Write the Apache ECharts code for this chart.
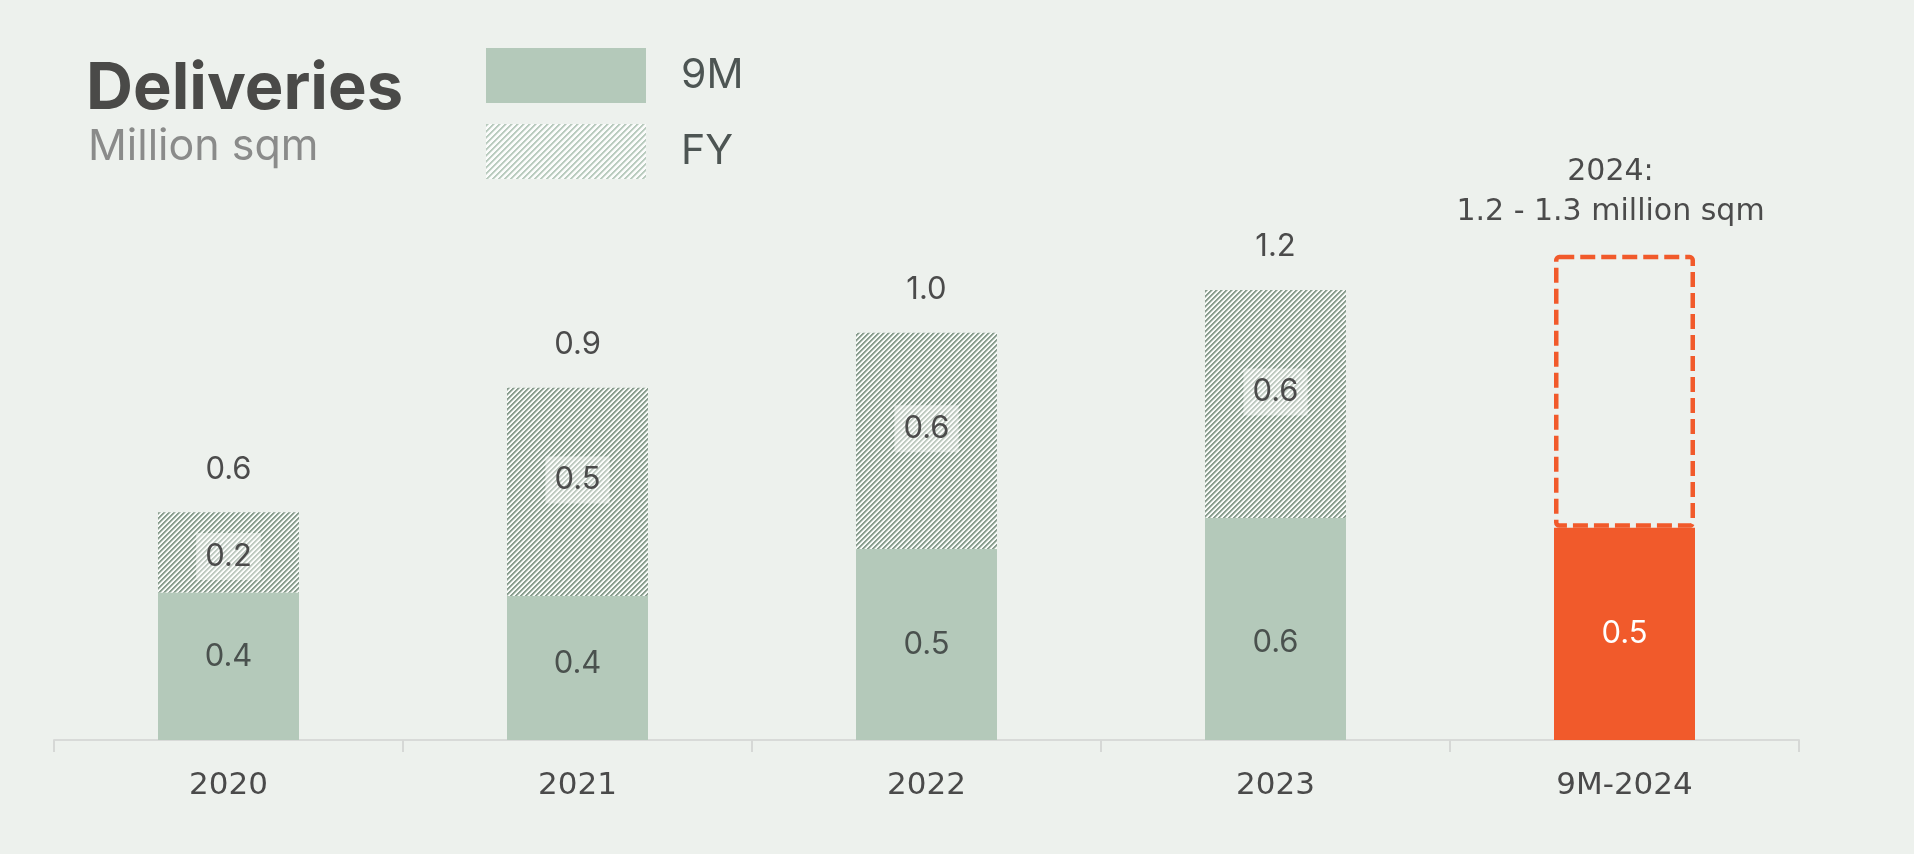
<!DOCTYPE html>
<html>
<head>
<meta charset="utf-8">
<script src="https://cdn.jsdelivr.net/npm/echarts@6/dist/echarts.min.js"></script>
<style>
  html, body { margin: 0; padding: 0; background: #edf1ed; }
  #main { width: 1914px; height: 854px; }
</style>
</head>
<body>
<div id="main"></div>
<script>
// values (million sqm)
var categories = ['2020', '2021', '2022', '2023', '9M-2024'];
var nineMonths = [0.378, 0.369, 0.490, 0.569, 0.544];
var fullYearRest = [0.206, 0.534, 0.554, 0.585, '-'];
var guidanceTop = 1.244;   // top of the dashed 2024 box
var guidanceText = '2024:\n1.2 - 1.3 million sqm';

var fontName = 'Inter';
var wideFont = 'DejaVu Sans';
var green = '#b4c9ba';
var orange = '#f15a2b';

// label nudges, as in the slide
var nineMShift = [-10, -4, 0, 14, 0];
var fyShift = [4, -12, -12, -12, 0];

// diagonal hatch used by the FY bars
function hatch(size, dark, mid, light) {
    var c = document.createElement('canvas');
    c.width = size;
    c.height = size;
    var ctx = c.getContext('2d');
    for (var x = 0; x < size; x++) {
        for (var y = 0; y < size; y++) {
            var k = (x + y) % size;
            ctx.fillStyle = k < 2 ? dark : (k === 2 ? mid : light);
            ctx.fillRect(x, y, 1, 1);
        }
    }
    return { image: c, repeat: 'repeat' };
}

var barHatch = hatch(5, '#8a9e8f', '#bdcac0', '#f8faf8');
var legendHatch = hatch(6, '#b9cbbe', '#d6e1d9', '#fbfcfb');

var totals = nineMonths.map(function (v, i) {
    return fullYearRest[i] === '-' ? '-' : v + fullYearRest[i];
});
var guidanceBox = nineMonths.map(function (v, i) {
    return i === nineMonths.length - 1 ? guidanceTop - v : '-';
});

var myChart = echarts.init(document.getElementById('main'));

myChart.setOption({
    backgroundColor: '#edf1ed',
    animation: false,
    textStyle: { fontFamily: fontName },
    title: [
        {
            text: 'Deliveries',
            left: 86,
            top: 57,
            padding: 0,
            textStyle: { fontFamily: fontName, fontSize: 65, fontWeight: 'bold', color: '#4a4a48', lineHeight: 65 }
        },
        {
            text: 'Million sqm',
            left: 88,
            top: 126,
            padding: 0,
            textStyle: { fontFamily: fontName, fontSize: 43, fontWeight: 'normal', color: '#8a8b8a', lineHeight: 43 }
        }
    ],
    legend: {
        left: 486,
        top: 48,
        padding: 0,
        orient: 'vertical',
        itemWidth: 160,
        itemHeight: 55,
        itemGap: 21,
        selectedMode: false,
        textStyle: { fontFamily: fontName, fontSize: 41, color: '#4d5553', padding: [0, 0, 0, 30] },
        data: [
            { name: '9M', icon: 'rect', itemStyle: { color: green } },
            { name: 'FY', icon: 'rect', itemStyle: { color: legendHatch } }
        ]
    },
    grid: {
        left: 54,
        right: 115,
        top: 155,
        bottom: 114
    },
    xAxis: {
        type: 'category',
        data: categories,
        axisLine: { show: true, lineStyle: { color: '#d8dad8', width: 2 } },
        axisTick: { show: true, length: 12, lineStyle: { color: '#d6d8d6', width: 2 } },
        axisLabel: { fontFamily: wideFont, fontSize: 31, color: '#4a4a4a', margin: 30 }
    },
    yAxis: {
        type: 'value',
        show: false,
        min: 0,
        max: 1.5
    },
    series: [
        {
            name: '9M',
            type: 'bar',
            stack: 'd',
            barWidth: 141,
            itemStyle: { color: green },
            label: {
                show: true,
                position: 'inside',
                fontFamily: fontName,
                fontSize: 31,
                color: '#4a514e',
                formatter: function (p) { return p.value.toFixed(1); }
            },
            data: nineMonths.map(function (v, i) {
                var item = { value: v, label: { offset: [0, nineMShift[i]] } };
                if (i === nineMonths.length - 1) {
                    item.itemStyle = { color: orange };
                    item.label.color = '#ffffff';
                }
                return item;
            })
        },
        {
            name: 'FY',
            type: 'bar',
            stack: 'd',
            barWidth: 141,
            itemStyle: { color: barHatch },
            label: {
                show: true,
                position: 'inside',
                fontFamily: fontName,
                fontSize: 31,
                color: '#4b4b4b',
                backgroundColor: 'rgba(255,255,255,0.45)',
                padding: [8, 9, 8, 9],
                formatter: function (p) { return p.value.toFixed(1); }
            },
            data: fullYearRest.map(function (v, i) {
                return { value: v, label: { offset: [0, fyShift[i]] } };
            })
        },
        {
            name: 'Guidance',
            type: 'bar',
            stack: 'd',
            barWidth: 141,
            itemStyle: {
                color: 'rgba(0,0,0,0)',
                borderColor: orange,
                borderWidth: 4.5,
                borderType: [15, 6],
                borderRadius: 3
            },
            label: {
                show: true,
                position: 'top',
                distance: 23,
                offset: [-14, 0],
                fontFamily: wideFont,
                fontSize: 30,
                lineHeight: 40,
                color: '#4b4b4b',
                formatter: function () { return guidanceText; }
            },
            data: guidanceBox
        },
        {
            name: 'Total',
            type: 'scatter',
            symbolSize: 1,
            itemStyle: { color: 'rgba(0,0,0,0)', opacity: 1 },
            label: {
                show: true,
                position: 'top',
                distance: 27,
                opacity: 1,
                fontFamily: fontName,
                fontSize: 31,
                color: '#4b4b4b',
                formatter: function (p) { return p.value.toFixed(1); }
            },
            data: totals
        }
    ]
});
</script>
</body>
</html>
